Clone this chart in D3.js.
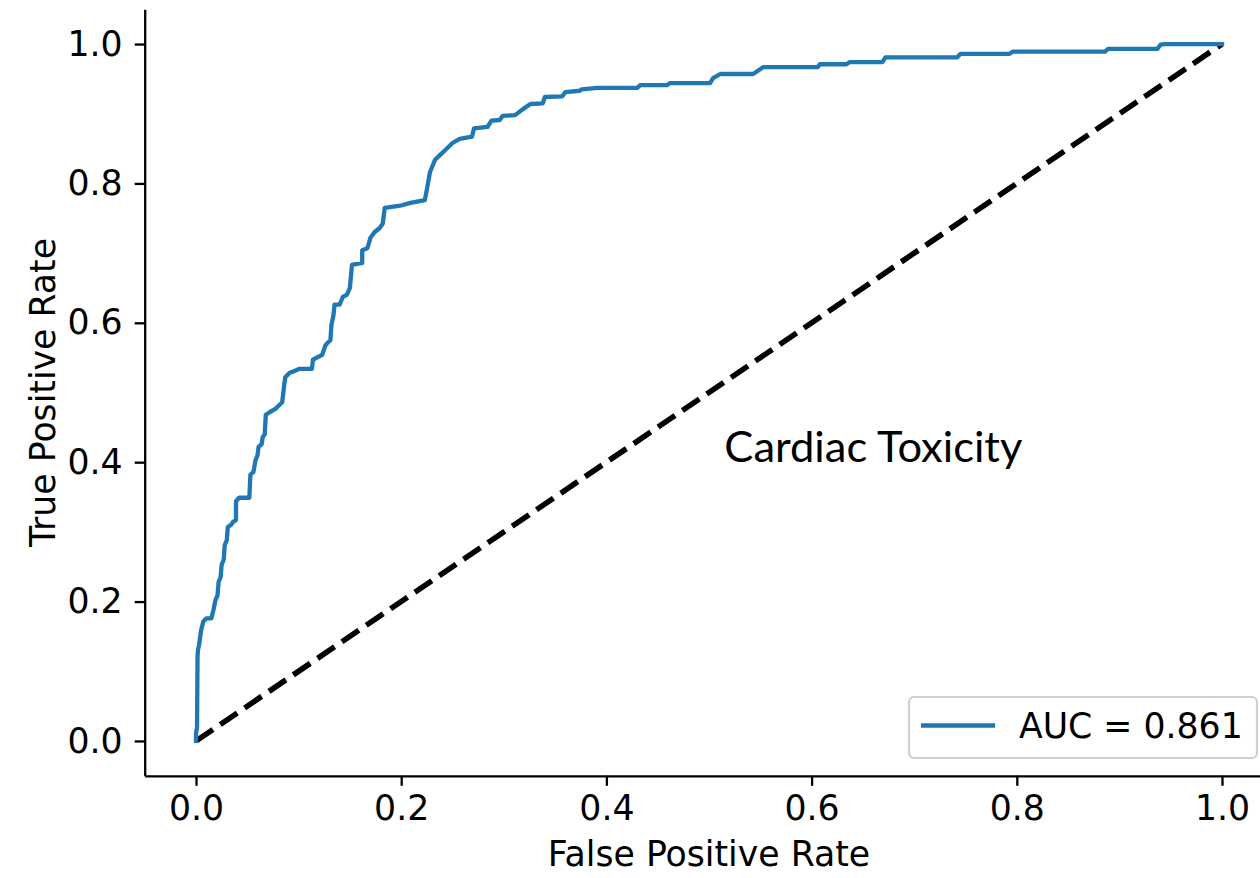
<!DOCTYPE html>
<html>
<head>
<meta charset="utf-8">
<script src="https://cdn.jsdelivr.net/npm/d3@7"></script>
<style>
  body { margin: 0; background: #fff; }
  svg { display: block; }
</style>
</head>
<body>
<svg id="RocChart" width="1260" height="878"></svg>
<script>
// ROC curve (corner points of the step curve)
const fpr = [0, 0, 0.001, 0.0015, 0.002, 0.003, 0.005, 0.007, 0.010, 0.015,
  0.017, 0.019, 0.021, 0.022, 0.024, 0.025, 0.027, 0.028, 0.030, 0.031,
  0.034, 0.036, 0.039, 0.039, 0.042, 0.052, 0.053, 0.056, 0.058, 0.060,
  0.061, 0.064, 0.065, 0.067, 0.068, 0.072, 0.077, 0.084, 0.086, 0.087,
  0.091, 0.096, 0.101, 0.113, 0.114, 0.119, 0.123, 0.126, 0.128, 0.131,
  0.132, 0.134, 0.135, 0.140, 0.143, 0.147, 0.150, 0.152, 0.162, 0.162,
  0.167, 0.170, 0.174, 0.179, 0.182, 0.184, 0.199, 0.209, 0.223, 0.225,
  0.228, 0.233, 0.238, 0.243, 0.250, 0.257, 0.269, 0.271, 0.284, 0.288,
  0.296, 0.299, 0.311, 0.319, 0.326, 0.338, 0.340, 0.357, 0.360, 0.374,
  0.376, 0.391, 0.430, 0.433, 0.459, 0.462, 0.501, 0.504, 0.511, 0.543,
  0.553, 0.606, 0.608, 0.634, 0.637, 0.669, 0.672, 0.742, 0.745, 0.793,
  0.796, 0.886, 0.889, 0.937, 0.940, 0.944, 1.0];
const tpr = [0, 0.011, 0.019, 0.121, 0.131, 0.138, 0.159, 0.171, 0.176, 0.176,
  0.188, 0.202, 0.209, 0.228, 0.235, 0.253, 0.260, 0.281, 0.288, 0.307,
  0.310, 0.314, 0.317, 0.344, 0.349, 0.349, 0.382, 0.386, 0.403, 0.410,
  0.422, 0.426, 0.436, 0.440, 0.468, 0.472, 0.476, 0.486, 0.511, 0.522,
  0.528, 0.531, 0.534, 0.534, 0.547, 0.551, 0.554, 0.567, 0.571, 0.575,
  0.597, 0.611, 0.626, 0.626, 0.637, 0.640, 0.650, 0.683, 0.686, 0.704,
  0.707, 0.722, 0.730, 0.736, 0.742, 0.765, 0.768, 0.772, 0.776, 0.791,
  0.816, 0.834, 0.841, 0.848, 0.858, 0.864, 0.867, 0.879, 0.881, 0.890,
  0.891, 0.897, 0.898, 0.907, 0.914, 0.915, 0.924, 0.925, 0.931, 0.933,
  0.935, 0.937, 0.937, 0.941, 0.941, 0.944, 0.944, 0.951, 0.957, 0.957,
  0.967, 0.967, 0.971, 0.971, 0.974, 0.974, 0.981, 0.981, 0.986, 0.986,
  0.989, 0.989, 0.993, 0.993, 0.999, 1.0, 1.0];

const chanceX = [0, 1];
const chanceY = [0, 1];
const xTicks = [0, 0.2, 0.4, 0.6, 0.8, 1.0];
const yTicks = [0, 0.2, 0.4, 0.6, 0.8, 1.0];
const aucLabel = 'AUC = 0.861';
const noteText = 'Cardiac Toxicity';
const noteAt = [0.515, 0.4];

const svg = d3.select('#RocChart');
const tickFont = '"DejaVu Sans", sans-serif';
const fontSize = '34.7px';

// plot area (right edge runs past the picture, like the reference)
const plotLeft = 144.7, plotRight = 1273.3, plotTop = 9.2, plotBottom = 775.8;

const xScale = d3.scaleLinear().domain([-0.05, 1.05]).range([plotLeft, plotRight]);
const yScale = d3.scaleLinear().domain([-0.05, 1.05]).range([plotBottom, plotTop]);

// axes
let xAxis = d3.axisBottom(xScale).tickValues(xTicks).tickFormat(d3.format('.1f'))
  .tickSize(10).tickSizeOuter(0).tickPadding(10);
let yAxis = d3.axisLeft(yScale).tickValues(yTicks).tickFormat(d3.format('.1f'))
  .tickSize(10).tickSizeOuter(0).tickPadding(12);

const gx = svg.append('g').attr('transform', `translate(0, ${plotBottom})`).call(xAxis);
const gy = svg.append('g').attr('transform', `translate(${plotLeft}, 0)`).call(yAxis);

[gx, gy].forEach(g => {
  g.select('.domain').attr('stroke', '#000').attr('stroke-width', 2.3);
  g.selectAll('.tick line').attr('stroke', '#000').attr('stroke-width', 2.3);
  g.selectAll('.tick text').attr('fill', '#000')
    .style('font-family', tickFont).style('font-size', fontSize);
});

// chance line
svg.append('path')
  .datum(d3.zip(chanceX, chanceY))
  .attr('d', d3.line().x(d => xScale(d[0])).y(d => yScale(d[1])))
  .attr('fill', 'none').attr('stroke', '#000')
  .attr('stroke-width', 5.5).attr('stroke-dasharray', '20.5,8.9');

// ROC curve
svg.append('path')
  .datum(d3.zip(fpr, tpr))
  .attr('d', d3.line().x(d => xScale(d[0])).y(d => yScale(d[1])))
  .attr('fill', 'none').attr('stroke', '#1f77b4')
  .attr('stroke-width', 4.3).attr('stroke-linejoin', 'round').attr('stroke-linecap', 'square');

// annotation
svg.append('text')
  .attr('x', xScale(noteAt[0])).attr('y', yScale(noteAt[1]))
  .attr('fill', '#000')
  .attr('textLength', 298).attr('lengthAdjust', 'spacingAndGlyphs')
  .style('font-family', 'Lato, "Open Sans", sans-serif')
  .style('font-size', '42px')
  .text(noteText);

// axis labels
svg.append('text')
  .attr('x', (plotLeft + plotRight) / 2).attr('y', 866)
  .attr('text-anchor', 'middle').attr('fill', '#000')
  .style('font-family', tickFont).style('font-size', fontSize)
  .text('False Positive Rate');

svg.append('text')
  .attr('transform', `translate(55, ${(plotTop + plotBottom) / 2}) rotate(-90)`)
  .attr('text-anchor', 'middle').attr('fill', '#000')
  .style('font-family', tickFont).style('font-size', fontSize)
  .text('True Positive Rate');

// legend, lower right
const legend = svg.append('g').attr('transform', 'translate(909, 697)');
legend.append('rect')
  .attr('width', 348).attr('height', 61).attr('rx', 5)
  .attr('fill', '#fff').attr('stroke', '#d0d0d0').attr('stroke-width', 2.2);
legend.append('line')
  .attr('x1', 12).attr('x2', 86).attr('y1', 28.5).attr('y2', 28.5)
  .attr('stroke', '#1f77b4').attr('stroke-width', 4.3);
legend.append('text')
  .attr('x', 110).attr('y', 41).attr('fill', '#000')
  .style('font-family', tickFont).style('font-size', fontSize)
  .text(aucLabel);
</script>
</body>
</html>
